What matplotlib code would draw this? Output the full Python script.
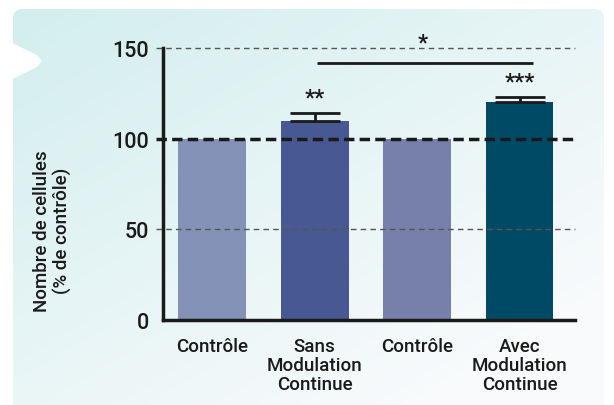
import numpy as np
import matplotlib
matplotlib.use("Agg")
import matplotlib.pyplot as plt
from matplotlib.patches import FancyBboxPatch, Polygon

# Data
categories = ["Contrôle", "Sans\nModulation\nContinue", "Contrôle", "Avec\nModulation\nContinue"]
values = [100, 110, 100, 120]
errors = [0, 4, 0, 3]
stars = ["", "**", "", "***"]
bar_colors = ["#8592b7", "#485892", "#7780ab", "#004a66"]
yticks = [0, 50, 100, 150]
sig_pair = (1, 3)
sig_level = 142
sig_label = "*"

plt.rcParams['font.family'] = ['Roboto', 'DejaVu Sans']
TXT = '#1a1a1a'
FW = 'medium'

fig = plt.figure(figsize=(6.14, 4.06), dpi=100)

# Background panel with a soft teal gradient
bg = fig.add_axes([0, 0, 1, 1], zorder=0)
bg.set_xlim(0, 614)
bg.set_ylim(406, 0)
bg.axis('off')
gx, gy = np.meshgrid(np.linspace(0, 1, 200), np.linspace(0, 1, 200))
t = np.clip((gx * 0.6 + gy * 0.7) / 1.1, 0, 1)[..., None]
c0 = np.array([0.827, 0.933, 0.933])
c1 = np.array([0.975, 0.982, 0.988])
grad = c0 * (1 - t) + c1 * t
panel = FancyBboxPatch((13, 10), 591, 405, boxstyle="round,pad=0,rounding_size=10",
                       facecolor='none', edgecolor='none')
bg.add_patch(panel)
im = bg.imshow(grad, extent=(13, 604, 415, 10), aspect='auto', zorder=0)
im.set_clip_path(panel)
notch = Polygon([(10, 43), (37, 56), (42, 62), (37, 68), (10, 81)], closed=True,
                facecolor='white', edgecolor='none', zorder=1)
bg.add_patch(notch)

ax = fig.add_axes([163 / 614, 1 - 321 / 406, (575 - 163) / 614, (321 - 49) / 406], zorder=2)
ax.patch.set_alpha(0)

x = np.arange(len(values))
ax.bar(x, values, width=0.66, color=bar_colors, zorder=2)
for i in x:
    if errors[i] > 0:
        ax.errorbar(i, values[i], yerr=[[0], [errors[i]]], fmt='none', ecolor=TXT,
                    elinewidth=2, capsize=18, capthick=2, zorder=3)
        ax.text(i, values[i] + errors[i] + 2.5, stars[i], ha='center', va='bottom',
                fontsize=16, fontweight='bold', color=TXT)

# Reference lines
for yv in (50, 150):
    ax.axhline(yv, xmin=-0.017, xmax=1, color='#555555', lw=1, dashes=(4, 3),
               clip_on=False, zorder=4)
ax.axhline(100, xmin=-0.017, xmax=1, color=TXT, lw=2.5, dashes=(3, 1.5),
           clip_on=False, zorder=4)

# Significance bar
ax.plot([sig_pair[0] + 0.02, sig_pair[1] + 0.13], [sig_level, sig_level], color=TXT,
        lw=2, solid_capstyle='butt', clip_on=False, zorder=4)
ax.text((sig_pair[0] + sig_pair[1]) / 2 + 0.05, 147, sig_label, ha='center', va='bottom',
        fontsize=16, fontweight='bold', color=TXT)

ax.set_xlim(-0.48, 3.54)
ax.set_ylim(0, 150)
ax.set_yticks(yticks)
ax.set_yticklabels([str(v) for v in yticks], fontsize=15.5, color=TXT, fontweight=FW)
ax.set_xticks(x)
ax.set_xticklabels(categories, fontsize=13.5, color=TXT, linespacing=1.1, va='top',
                   fontweight=FW)
ax.tick_params(axis='y', length=0, pad=10)
ax.tick_params(axis='x', length=0, pad=12)
for s in ('top', 'right'):
    ax.spines[s].set_visible(False)
for s in ('left', 'bottom'):
    ax.spines[s].set_linewidth(2.5)
    ax.spines[s].set_color(TXT)
ax.set_ylabel("Nombre de cellules\n(% de contrôle)", fontsize=13.5, color=TXT,
              linespacing=1.15, fontweight=FW)
ax.yaxis.set_label_coords(-0.22, 0.33)

fig.savefig("out.png", dpi=100)
